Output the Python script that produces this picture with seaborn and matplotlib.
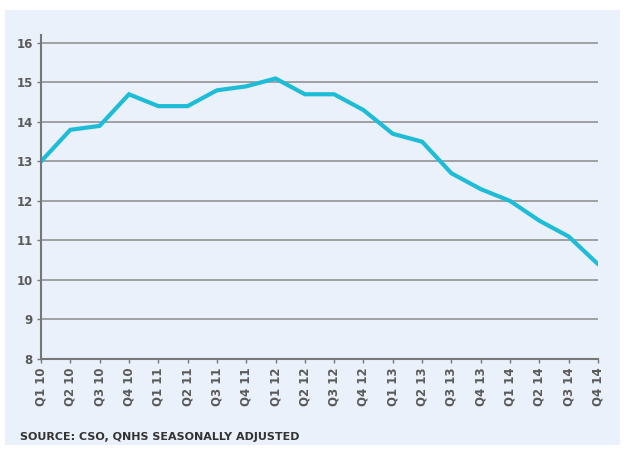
import matplotlib.pyplot as plt
from matplotlib.patches import Rectangle
import numpy as np
import pandas as pd
import seaborn as sns

# quarters and values
quarters = ['Q1 10', 'Q2 10', 'Q3 10', 'Q4 10', 'Q1 11', 'Q2 11', 'Q3 11', 'Q4 11',
            'Q1 12', 'Q2 12', 'Q3 12', 'Q4 12', 'Q1 13', 'Q2 13', 'Q3 13', 'Q4 13',
            'Q1 14', 'Q2 14', 'Q3 14', 'Q4 14']
values = [13.0, 13.8, 13.9, 14.7, 14.4, 14.4, 14.8, 14.9, 15.1, 14.7,
          14.7, 14.3, 13.7, 13.5, 12.7, 12.3, 12.0, 11.5, 11.1, 10.4]
y_ticks = [8, 9, 10, 11, 12, 13, 14, 15, 16]

bg = '#EAF1FB'
txt = '#5a5a5a'

sns.set_style('white')
plt.rcParams['font.family'] = ['DejaVu Sans']

df = pd.DataFrame({'pos': np.arange(len(quarters)), 'value': values})

fig = plt.figure(figsize=(6.26, 4.5), dpi=100, facecolor='white')
fig.patches.append(Rectangle((5 / 626, 1 - 445 / 450), 615 / 626, 435 / 450,
                             transform=fig.transFigure, facecolor=bg,
                             edgecolor='none', zorder=-1))
ax = fig.add_axes([41 / 626, 1 - 359 / 450, 557 / 626, 324 / 450])
ax.set_facecolor(bg)

sns.lineplot(data=df, x='pos', y='value', ax=ax, color='#1FBCD8', linewidth=3,
             solid_joinstyle='miter')

ax.set_xlim(0, len(quarters) - 1)
ax.set_ylim(8, 16.2)
ax.set_yticks(y_ticks)
ax.set_yticklabels([str(t) for t in y_ticks], fontsize=8.5, fontweight='bold', color=txt)
ax.set_xticks(df['pos'])
ax.set_xticklabels(quarters, rotation=90, fontsize=8.5, fontweight='bold', color=txt)
ax.yaxis.grid(True, color='#8a8a8a', linewidth=1.1)
ax.set_axisbelow(True)
ax.tick_params(axis='both', length=3, width=1, color='#777777', pad=3)
ax.tick_params(axis='x', bottom=True)
ax.tick_params(axis='y', left=True)
for s in ['top', 'right']:
    ax.spines[s].set_visible(False)
for s in ['left', 'bottom']:
    ax.spines[s].set_color('#777777')
    ax.spines[s].set_linewidth(1.5)
ax.set_xlabel('')
ax.set_ylabel('')

fig.text(20 / 626, 1 - 437 / 450, 'SOURCE: CSO, QNHS SEASONALLY ADJUSTED',
         fontsize=8, fontweight='bold', color='#333333', va='center')

fig.savefig('out.png', dpi=100, facecolor='white')
